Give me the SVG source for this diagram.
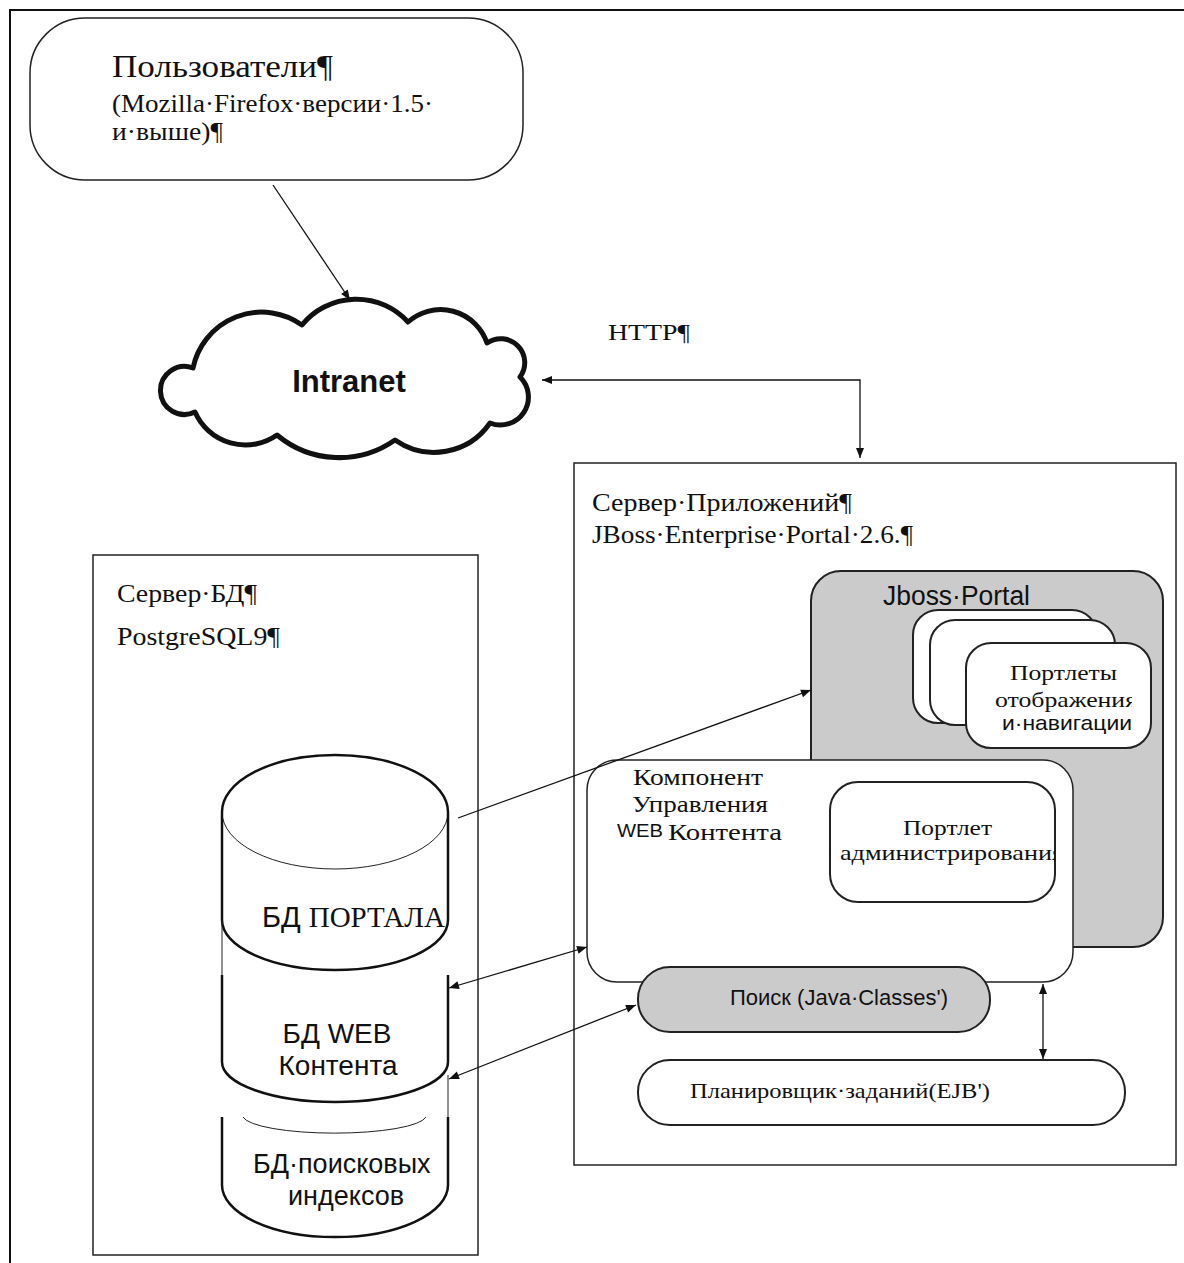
<svg xmlns="http://www.w3.org/2000/svg" width="1184" height="1263" viewBox="0 0 1184 1263">
<style>
.serif{font-family:"Liberation Serif","Times New Roman",serif;fill:#111}
.sans{font-family:"Liberation Sans",Arial,sans-serif;fill:#111}
.box{fill:#fff;stroke:#222;stroke-width:1.5}
.rbox{fill:#fff;stroke:#222;stroke-width:2}
.gray{fill:#cbcbcb;stroke:#222;stroke-width:2}
.thick{fill:none;stroke:#111;stroke-width:2.5}
.thin{fill:none;stroke:#222;stroke-width:1}
.conn{fill:none;stroke:#111;stroke-width:1.3}
</style>
<defs>
<marker id="ah" viewBox="0 0 10 10" refX="10" refY="5" markerWidth="11" markerHeight="10" markerUnits="userSpaceOnUse" orient="auto-start-reverse">
<path d="M0,1 L10,5 L0,9 z" fill="#111"/>
</marker>
<clipPath id="cyl1"><rect x="222" y="740" width="224" height="230"/></clipPath>
<clipPath id="cyl3a"><rect x="222" y="1140" width="210" height="40"/></clipPath>
<clipPath id="cyl3b"><rect x="222" y="1180" width="182" height="40"/></clipPath>
<clipPath id="admclip"><rect x="830" y="782" width="225" height="120"/></clipPath>
<clipPath id="ptclip"><rect x="966" y="643" width="166" height="105"/></clipPath>
<clipPath id="jpclip"><rect x="811" y="571" width="222" height="60"/></clipPath>
</defs>
<rect width="1184" height="1263" fill="#fff"/>
<path d="M10,1263 V10 H1184" fill="none" stroke="#111" stroke-width="2"/>

<g id="users">
<rect x="30" y="18" width="493" height="162" rx="55" class="box"/>
<text x="112" y="77" class="serif" font-size="32" textLength="221" lengthAdjust="spacingAndGlyphs">Пользователи¶</text>
<text x="112" y="112" class="serif" font-size="26" textLength="321" lengthAdjust="spacingAndGlyphs">(Mozilla·Firefox·версии·1.5·</text>
<text x="112" y="140" class="serif" font-size="26" textLength="111" lengthAdjust="spacingAndGlyphs">и·выше)¶</text>
</g>

<g id="intranet">
<path d="M193,368 A70,70 0 0 1 302,325 A70,70 0 0 1 408,322 A49,49 0 0 1 487,343 A24,24 0 0 1 520,377 A28,28 0 0 1 490,423 A68,68 0 0 1 395,440 A97,97 0 0 1 277,435 A55,55 0 0 1 195,412 A24,24 0 1 1 193,368 Z" fill="#fff" stroke="#111" stroke-width="5" stroke-linejoin="round"/>
<text x="349" y="392" class="sans" font-size="31" font-weight="bold" text-anchor="middle">Intranet</text>
</g>

<g id="http-label">
<text x="608" y="340" class="serif" font-size="24" textLength="82" lengthAdjust="spacingAndGlyphs">HTTP¶</text>
</g>

<g id="app-server">
<rect x="574" y="463" width="602" height="702" class="box"/>
<text x="592" y="511" class="serif" font-size="25" textLength="260" lengthAdjust="spacingAndGlyphs">Сервер·Приложений¶</text>
<text x="592" y="543" class="serif" font-size="25" textLength="321" lengthAdjust="spacingAndGlyphs">JBoss·Enterprise·Portal·2.6.¶</text>
</g>

<g id="jboss-portal">
<rect x="811" y="571" width="352" height="376" rx="30" class="gray"/>
<g clip-path="url(#jpclip)">
<text x="883" y="605" class="sans" font-size="27" textLength="147" lengthAdjust="spacingAndGlyphs">Jboss·Portal</text>
</g>
</g>

<g id="portlets">
<rect x="913" y="610" width="184" height="113" rx="25" class="rbox"/>
<rect x="930" y="620" width="185" height="105" rx="25" class="rbox"/>
<rect x="966" y="643" width="185" height="105" rx="25" class="rbox"/>
<text x="1010" y="680" class="serif" font-size="22" textLength="107" lengthAdjust="spacingAndGlyphs">Портлеты</text>
<g clip-path="url(#ptclip)">
<text x="995" y="707" class="serif" font-size="22" textLength="142" lengthAdjust="spacingAndGlyphs">отображения</text>
</g>
<text x="1002" y="730" class="sans" font-size="21" textLength="130" lengthAdjust="spacingAndGlyphs">и·навигации</text>
</g>

<g id="wcm">
<rect x="587" y="760" width="486" height="222" rx="30" class="box"/>
<text x="633" y="785" class="serif" font-size="23" textLength="130" lengthAdjust="spacingAndGlyphs">Компонент</text>
<text x="632" y="812" class="serif" font-size="23" textLength="136" lengthAdjust="spacingAndGlyphs">Управления</text>
<text x="617" y="837" class="sans" font-size="19" textLength="46" lengthAdjust="spacingAndGlyphs">WEB</text>
<text x="668" y="840" class="serif" font-size="23" textLength="114" lengthAdjust="spacingAndGlyphs">Контента</text>
</g>

<g id="admin-portlet">
<rect x="830" y="782" width="225" height="120" rx="28" class="rbox"/>
<text x="903" y="835" class="serif" font-size="22" textLength="89" lengthAdjust="spacingAndGlyphs">Портлет</text>
<g clip-path="url(#admclip)">
<text x="840" y="860" class="serif" font-size="22" textLength="224" lengthAdjust="spacingAndGlyphs">администрирования</text>
</g>
</g>

<g id="search">
<rect x="638" y="967" width="352" height="65" rx="32" class="gray"/>
<text x="730" y="1005" class="sans" font-size="22" textLength="218" lengthAdjust="spacingAndGlyphs">Поиск (Java·Classes')</text>
</g>

<g id="scheduler">
<rect x="638" y="1060" width="487" height="65" rx="32" class="rbox"/>
<text x="690" y="1098" class="serif" font-size="22" textLength="300" lengthAdjust="spacingAndGlyphs">Планировщик·заданий(EJB')</text>
</g>

<g id="db-server">
<rect x="93" y="555" width="385" height="700" class="box"/>
<text x="117" y="602" class="serif" font-size="25" textLength="140" lengthAdjust="spacingAndGlyphs">Сервер·БД¶</text>
<text x="117" y="645" class="serif" font-size="25" textLength="163" lengthAdjust="spacingAndGlyphs">PostgreSQL9¶</text>
</g>

<g id="db-portal">
<path d="M222,812 A113,57 0 0 1 448,812 V920 A113,50 0 0 1 222,920 Z" fill="#fff"/>
<path d="M222,812 A113,57 0 0 1 448,812" class="thick"/>
<path d="M222,812 A113,57 0 0 0 448,812" class="thin"/>
<path d="M222,812 V920 M448,812 V920" class="thick"/>
<path d="M222,920 A113,50 0 0 0 448,920" class="thick"/>
<path d="M222,920 V975" class="thin"/>
<g clip-path="url(#cyl1)">
<text x="262" y="927" class="sans" font-size="29">БД <tspan class="serif" font-size="29">ПОРТАЛА</tspan></text>
</g>
</g>

<g id="db-web">
<path d="M222,975 V1062 M448,975 V1062" class="thick"/>
<path d="M222,1062 A113,40 0 0 0 448,1062" class="thick"/>
<path d="M448,1075 V1117" class="thin"/>
<text x="337" y="1043" class="sans" font-size="28" text-anchor="middle">БД WEB</text>
<text x="338" y="1075" class="sans" font-size="28" text-anchor="middle">Контента</text>
</g>

<g id="db-index">
<path d="M243,1117 A92,18 0 0 0 426,1117" class="thin"/>
<path d="M222,1117 V1185 M448,1117 V1185" class="thick"/>
<path d="M222,1185 A113,52 0 0 0 448,1185" class="thick"/>
<g clip-path="url(#cyl3a)">
<text x="253" y="1173" class="sans" font-size="27">БД·поисковых</text>
</g>
<g clip-path="url(#cyl3b)">
<text x="288" y="1205" class="sans" font-size="27">индексов</text>
</g>
</g>

<g id="connectors">
<line x1="273" y1="185" x2="350" y2="300" class="conn" marker-end="url(#ah)"/>
<path d="M542,380 H860 V458" class="conn" marker-start="url(#ah)" marker-end="url(#ah)"/>
<line x1="458" y1="818" x2="811" y2="690" class="conn" marker-end="url(#ah)"/>
<line x1="449" y1="988" x2="587" y2="947" class="conn" marker-start="url(#ah)" marker-end="url(#ah)"/>
<line x1="449" y1="1079" x2="636" y2="1005" class="conn" marker-start="url(#ah)" marker-end="url(#ah)"/>
<line x1="1043" y1="984" x2="1043" y2="1059" class="conn" marker-start="url(#ah)" marker-end="url(#ah)"/>
</g>
</svg>
